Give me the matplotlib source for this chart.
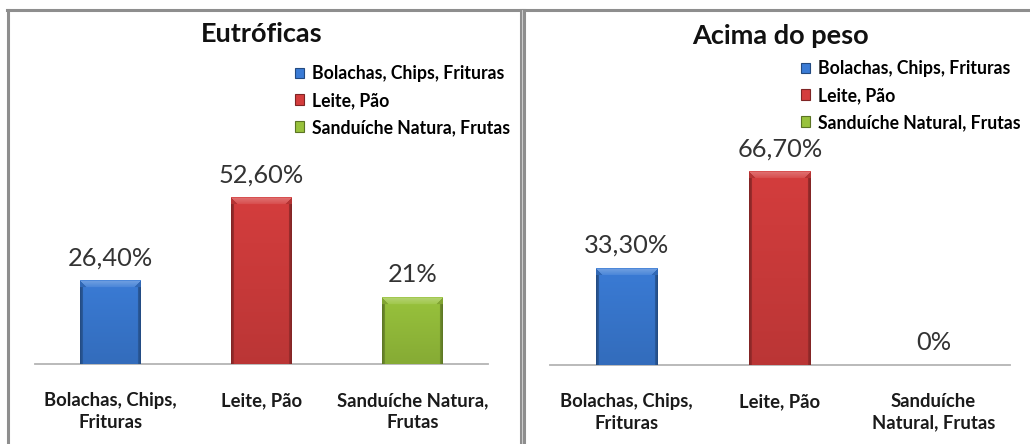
import numpy as np
import matplotlib
matplotlib.use("Agg")
import matplotlib.pyplot as plt
from matplotlib.lines import Line2D
from matplotlib.colors import to_rgb

# ---------------- data ----------------
titles = ["Eutróficas", "Acima do peso"]
categories_left = ["Bolachas, Chips,\nFrituras", "Leite, Pão", "Sanduíche Natura,\nFrutas"]
categories_right = ["Bolachas, Chips,\nFrituras", "Leite, Pão", "Sanduíche\nNatural, Frutas"]
legend_left = ["Bolachas, Chips, Frituras", "Leite, Pão", "Sanduíche Natura, Frutas"]
legend_right = ["Bolachas, Chips, Frituras", "Leite, Pão", "Sanduíche Natural, Frutas"]
values_left = [26.4, 52.6, 21.0]
values_right = [33.3, 66.7, 0.0]
labels_left = ["26,40%", "52,60%", "21%"]
labels_right = ["33,30%", "66,70%", "0%"]
bar_colors = ["#3a7bd5", "#d43d3d", "#98c23c"]

FONT = ["Lato", "DejaVu Sans"]
plt.rcParams["font.family"] = FONT

W, H = 1030, 444
fig = plt.figure(figsize=(W / 100, H / 100), dpi=100)
fig.patch.set_facecolor("white")


def px_axes(x0, x1, ybase, ytop):
    return fig.add_axes([x0 / W, (H - ybase) / H, (x1 - x0) / W, (ybase - ytop) / H])


def shade(c, f):
    c = np.array(to_rgb(c))
    if f < 1:
        return c * f
    return c + (1 - c) * (f - 1)


def beveled(ax, bars, color):
    for b in bars:
        x, y, w, h = b.get_x(), b.get_y(), b.get_width(), b.get_height()
        if h <= 0:
            b.set_visible(False)
            continue
        p0 = ax.transData.transform((x, y))
        p1 = ax.transData.transform((x + w, y + h))
        nx = max(int(round(p1[0] - p0[0])), 2)
        ny = max(int(round(p1[1] - p0[1])), 2)
        img = np.zeros((ny, nx, 3))
        base = np.array(to_rgb(color))
        bev = 7
        for j in range(ny):          # j = 0 at top
            vf = 1.0 - 0.12 * (j / ny)
            for i in range(nx):
                d_edge = min(i, nx - 1 - i)
                col = base * vf
                if d_edge < 3:
                    col = shade(color, 0.72 - 0.05 * (2 - d_edge))
                if j < bev and d_edge >= j:
                    col = shade(color, 1.28 - 0.03 * j)
                elif j < bev and d_edge < j:
                    col = shade(color, 0.85)
                if j == 0:
                    col = shade(color, 1.1)
                img[j, i] = col
        ax.imshow(img, extent=(x, x + w, y, y + h), aspect="auto",
                  interpolation="bilinear", zorder=3)
        b.set_visible(False)


def panel(x0, x1, ybase, ytop, ymax, values, labels, cats, legend_labels,
          title, title_xy, leg_xy):
    ax = px_axes(x0, x1, ybase, ytop)
    xs = np.arange(len(values))
    bars = ax.bar(xs, values, width=0.4, color=bar_colors,
                  edgecolor=[shade(c, 0.6) for c in bar_colors], linewidth=0.8)
    ax.set_xlim(-0.5, len(values) - 0.5)
    ax.set_ylim(0, ymax)
    for s in ["top", "right", "left"]:
        ax.spines[s].set_visible(False)
    ax.spines["bottom"].set_color("#b4b4b4")
    ax.spines["bottom"].set_linewidth(1.3)
    ax.set_yticks([])
    ax.set_xticks(xs)
    ax.set_xticklabels(cats, fontsize=13.3, fontweight="bold", color="#1a1a1a",
                       linespacing=1.3)
    ax.tick_params(axis="x", length=0, pad=20.5)
    ax.patch.set_alpha(0)
    for xi, v, lab in zip(xs, values, labels):
        ax.annotate(lab, (xi, v), xytext=(0, 16.5), textcoords="offset points",
                    ha="center", va="center", fontsize=18.3, color="#333333")
    fig.canvas.draw()
    for b, c in zip(bars, bar_colors):
        beveled(ax, [b], c)
    fig.text(title_xy[0] / W, 1 - title_xy[1] / H, title, ha="center", va="center",
             fontsize=19.5, fontweight="bold", color="#111111")
    handles = [plt.Rectangle((0, 0), 1, 1, facecolor=c, edgecolor=shade(c, 0.6),
                             linewidth=0.8) for c in bar_colors]
    fig.legend(handles, legend_labels, loc="upper left",
               bbox_to_anchor=(leg_xy[0] / W, 1 - leg_xy[1] / H),
               frameon=False, prop={"weight": "bold", "size": 12.7},
               handlelength=0.52, handleheight=0.52, handletextpad=0.42,
               labelspacing=0.56, borderpad=0, borderaxespad=0)
    return ax


# left panel: baseline 364 px, 3.156 px per unit
panel(35, 488, 364, 364 - 60 * 3.156, 60, values_left, labels_left,
      categories_left, legend_left, titles[0], (262, 34), (295, 65))
# right panel: baseline 365 px, 2.9 px per unit
panel(550, 1010, 365, 365 - 70 * 2.9, 70, values_right, labels_right,
      categories_right, legend_right, titles[1], (780, 36), (801, 60))

# panel borders
bc = "#8e8e8e"
def hline(x0, x1, y, lw=2.2, c=bc):
    fig.add_artist(Line2D([x0 / W, x1 / W], [1 - y / H, 1 - y / H], color=c, lw=lw))
def vline(x, y0, y1, lw=2.2, c=bc):
    fig.add_artist(Line2D([x / W, x / W], [1 - y0 / H, 1 - y1 / H], color=c, lw=lw))

hline(7, W, 10.5)
vline(8, 10, H)
vline(520.5, 10, H)
vline(523.5, 10, H)
vline(522, 10, H, lw=0.6, c="#d8d8d8")

fig.savefig("out.png", dpi=100, facecolor="white")
